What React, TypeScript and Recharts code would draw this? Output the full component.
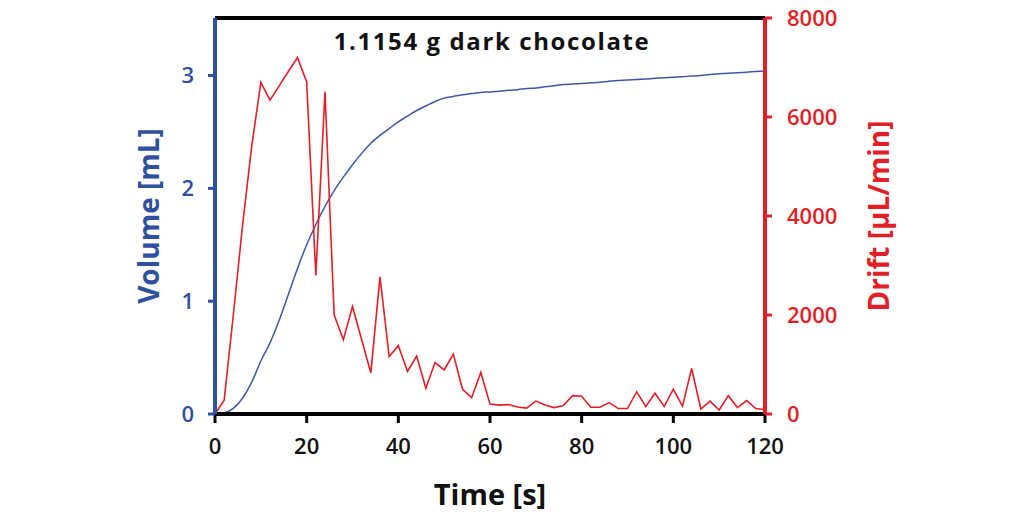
import { ComposedChart, Label, Line, XAxis, YAxis } from 'recharts'

const timeS = [
  0, 2, 4, 6, 8, 10, 12, 14, 16, 18, 20, 22, 24, 26, 28, 30, 32, 34, 36, 38, 40,
  42, 44, 46, 48, 50, 52, 54, 56, 58, 60, 62, 64, 66, 68, 70, 72, 74, 76, 78, 80,
  82, 84, 86, 88, 90, 92, 94, 96, 98, 100, 102, 104, 106, 108, 110, 112, 114, 116, 118, 120,
]

const volumeML = [
  0, 0.01, 0.05, 0.14, 0.28, 0.47, 0.63, 0.83, 1.06, 1.29, 1.5, 1.68, 1.84, 1.98, 2.1, 2.21,
  2.31, 2.4, 2.47, 2.53, 2.59, 2.64, 2.69, 2.73, 2.77, 2.8, 2.815, 2.83, 2.84, 2.85,
  2.855, 2.86, 2.87, 2.875, 2.885, 2.89, 2.9, 2.91, 2.92, 2.925, 2.93,
  2.935, 2.94, 2.95, 2.955, 2.96, 2.965, 2.97, 2.975, 2.98, 2.985,
  2.99, 2.995, 3.0, 3.01, 3.015, 3.02, 3.025, 3.03, 3.035, 3.04,
]

const driftULMin = [
  0, 280, 2000, 3800, 5400, 6700, 6340, 6630, 6920, 7200, 6710, 2800, 6510, 2000, 1500, 2170,
  1500, 830, 2770, 1160, 1380, 860, 1170, 520, 1040, 890, 1210, 500, 330, 840,
  200, 180, 190, 140, 120, 260, 180, 130, 170, 370, 360,
  135, 135, 230, 110, 110, 450, 150, 420, 150, 500,
  160, 920, 100, 260, 80, 370, 130, 270, 110, 90,
]

const timeTicks = [0, 20, 40, 60, 80, 100, 120]
const volumeTicks = [0, 1, 2, 3]
const driftTicks = [0, 2000, 4000, 6000, 8000]

const BLUE = '#2f4f9f'
const BLUE_LINE = '#3f56a6'
const RED = '#e41e26'
const FONT = '"Open Sans", "Noto Sans", sans-serif'

const rows = timeS.map((t, i) => ({ t, volume: volumeML[i], drift: driftULMin[i] }))

// rotated axis title, placed relative to the axis box
const sideTitle = (text: string, color: string, dx: number) => (props: any) => {
  const vb = props.viewBox ?? { x: 0, y: 0, width: 0, height: 0 }
  const cx = vb.x + dx
  const cy = vb.y + vb.height / 2
  return (
    <text
      x={cx}
      y={cy}
      transform={`rotate(-90 ${cx} ${cy})`}
      textAnchor="middle"
      dominantBaseline="central"
      fill={color}
      fontSize={28}
      fontWeight={700}
      fontFamily={FONT}
    >
      {text}
    </text>
  )
}

const bottomTitle = (props: any) => {
  const vb = props.viewBox ?? { x: 0, y: 0, width: 0, height: 0 }
  return (
    <text
      x={vb.x + vb.width / 2}
      y={vb.y + 79}
      textAnchor="middle"
      dominantBaseline="central"
      fill="#111"
      fontSize={29}
      fontWeight={700}
      fontFamily={FONT}
    >
      Time [s]
    </text>
  )
}

const chartTitle = (props: any) => {
  const vb = props.viewBox ?? { x: 0, y: 0, width: 0, height: 0 }
  return (
    <text
      x={vb.x + vb.width / 2 + 2}
      y={vb.y + vb.height + 22}
      textAnchor="middle"
      dominantBaseline="central"
      fill="#111"
      fontSize={24}
      fontWeight={700}
      letterSpacing={1.6}
      fontFamily={FONT}
    >
      1.1154 g dark chocolate
    </text>
  )
}

export default function App() {
  return (
    <div style={{ position: 'absolute', left: 0, top: 0, width: 1024, height: 515, background: '#fff' }}>
      <ComposedChart
        width={1024}
        height={515}
        data={rows}
        margin={{ top: 16, right: 124, bottom: 41, left: 135 }}
      >
        <XAxis
          xAxisId="top"
          orientation="top"
          dataKey="t"
          type="number"
          domain={[0, 120]}
          height={2}
          tick={false}
          tickLine={false}
          axisLine={{ stroke: '#000', strokeWidth: 4 }}
        >
          <Label content={chartTitle} />
        </XAxis>
        <XAxis
          dataKey="t"
          type="number"
          domain={[0, 120]}
          ticks={timeTicks}
          height={60}
          tickSize={9}
          tickMargin={15}
          axisLine={{ stroke: '#000', strokeWidth: 4 }}
          tickLine={{ stroke: '#000', strokeWidth: 3 }}
          tick={{ fill: '#111', fontSize: 22, fontWeight: 600, fontFamily: FONT }}
        >
          <Label content={bottomTitle} />
        </XAxis>
        <YAxis
          yAxisId="vol"
          domain={[0, 3.51]}
          ticks={volumeTicks}
          width={80}
          tickSize={7}
          tickMargin={14}
          axisLine={{ stroke: BLUE, strokeWidth: 4 }}
          tickLine={{ stroke: BLUE, strokeWidth: 3 }}
          tick={{ fill: BLUE, fontSize: 22, fontWeight: 600, fontFamily: FONT }}
        >
          <Label content={sideTitle('Volume [mL]', BLUE, 13)} />
        </YAxis>
        <YAxis
          yAxisId="drift"
          orientation="right"
          domain={[0, 8000]}
          ticks={driftTicks}
          width={135}
          tickSize={7}
          tickMargin={15}
          axisLine={{ stroke: RED, strokeWidth: 4 }}
          tickLine={{ stroke: RED, strokeWidth: 3 }}
          tick={{ fill: RED, fontSize: 22, fontWeight: 600, fontFamily: FONT }}
        >
          <Label content={sideTitle('Drift [µL/min]', RED, 113)} />
        </YAxis>
        <Line
          yAxisId="vol"
          type="monotone"
          dataKey="volume"
          stroke={BLUE_LINE}
          strokeWidth={1.5}
          dot={false}
          isAnimationActive={false}
        />
        <Line
          yAxisId="drift"
          type="linear"
          dataKey="drift"
          stroke={RED}
          strokeWidth={1.6}
          dot={false}
          isAnimationActive={false}
        />
      </ComposedChart>
    </div>
  )
}
